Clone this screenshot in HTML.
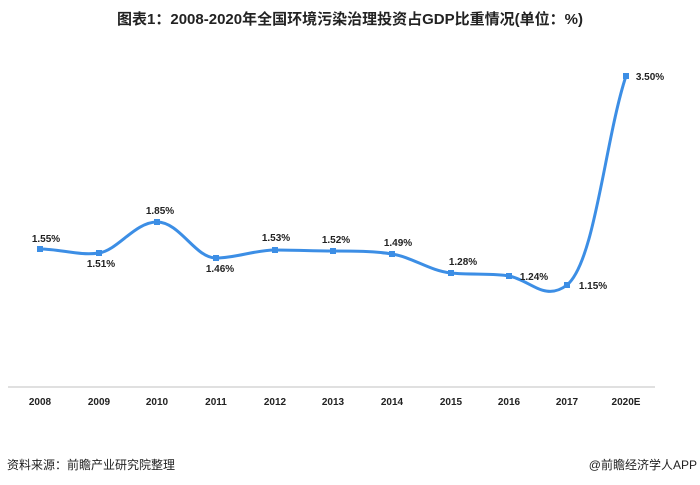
<!DOCTYPE html>
<html><head><meta charset="utf-8"><style>
html,body{margin:0;padding:0;background:#fff;width:700px;height:485px;overflow:hidden}
text{font-family:"Liberation Sans","Noto Sans CJK SC",sans-serif}
</style></head><body>
<svg width="700" height="485" viewBox="0 0 700 485" xmlns="http://www.w3.org/2000/svg">
<text x="350" y="24" text-anchor="middle" font-size="15" font-weight="bold" fill="#222">图表1：2008-2020年全国环境污染治理投资占GDP比重情况(单位：%)</text>
<line x1="8" y1="387" x2="655" y2="387" stroke="#e0e0e0" stroke-width="2"/>
<path d="M40,249 C60,249 80,256 99,253 C118,250 135,222 157,222 C180,222 195,258 216,258 C236,258 255,250 275,250 C295,250 313,251 333,251 C353,251 374,251 392,254 C412,257 430,271 451,273 C470,275 495,273 509,276 C530,280 545,302 567,285 C595,262 605,140 626,76" fill="none" stroke="#3c8ee5" stroke-width="3"/>
<g fill="#3c8ee5">
<rect x="37" y="246" width="6" height="6"/><rect x="96" y="250" width="6" height="6"/><rect x="154" y="219" width="6" height="6"/><rect x="213" y="255" width="6" height="6"/><rect x="272" y="247" width="6" height="6"/><rect x="330" y="248" width="6" height="6"/><rect x="389" y="251" width="6" height="6"/><rect x="448" y="270" width="6" height="6"/><rect x="506" y="273" width="6" height="6"/><rect x="564" y="282" width="6" height="6"/><rect x="623" y="73" width="6" height="6"/>
</g>
<g font-size="10" font-weight="bold" fill="#222" text-anchor="middle">
<text x="46" y="242">1.55%</text><text x="101" y="267">1.51%</text><text x="160" y="214">1.85%</text><text x="220" y="272">1.46%</text><text x="276" y="241">1.53%</text><text x="336" y="243">1.52%</text><text x="398" y="246">1.49%</text><text x="463" y="265">1.28%</text><text x="534" y="280">1.24%</text><text x="593" y="289">1.15%</text><text x="650" y="80">3.50%</text>
</g>
<g font-size="10" font-weight="bold" fill="#222" text-anchor="middle">
<text x="40" y="405">2008</text><text x="99" y="405">2009</text><text x="157" y="405">2010</text><text x="216" y="405">2011</text><text x="275" y="405">2012</text><text x="333" y="405">2013</text><text x="392" y="405">2014</text><text x="451" y="405">2015</text><text x="509" y="405">2016</text><text x="567" y="405">2017</text><text x="626" y="405">2020E</text>
</g>
<text x="7" y="469" font-size="12" fill="#222">资料来源：前瞻产业研究院整理</text>
<text x="697" y="469" font-size="12" fill="#222" text-anchor="end">@前瞻经济学人APP</text>
</svg>
</body></html>
